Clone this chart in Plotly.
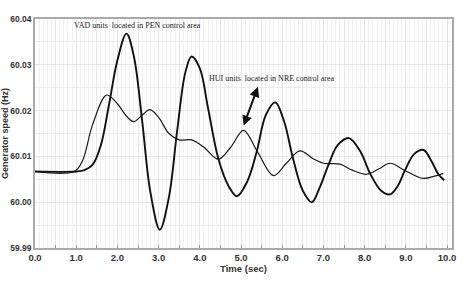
import plotly.graph_objects as go

# Time (s) and generator speed (Hz)
t_pen = [0.0, 1.0, 1.2, 1.4, 1.6, 1.8, 2.0, 2.22, 2.4, 2.6, 2.8, 3.03, 3.25, 3.45, 3.65, 3.8,
         4.0, 4.2, 4.45, 4.7, 4.9, 5.15, 5.38, 5.6, 5.83, 6.05, 6.25, 6.5, 6.72, 6.9, 7.12,
         7.35, 7.62, 7.9, 8.13, 8.4, 8.62, 8.8, 8.98, 9.2, 9.43, 9.62, 9.79, 9.93]
v_pen = [60.0067, 60.0067, 60.0070, 60.0082, 60.0125, 60.0215, 60.0310, 60.0368, 60.0318,
         60.0178, 60.0022, 59.9940, 60.0011, 60.0156, 60.0284, 60.0318, 60.0292, 60.0205,
         60.0095, 60.0035, 60.0013, 60.0045, 60.0110, 60.0190, 60.0218, 60.0175, 60.0100,
         60.0025, 60.0000, 60.0030, 60.0081, 60.0125, 60.0140, 60.0110, 60.0063, 60.0025,
         60.0017, 60.0035, 60.0070, 60.0105, 60.0114, 60.0090, 60.0061, 60.0048]

t_nre = [0.0, 0.95, 1.15, 1.4, 1.74, 2.0, 2.2, 2.39, 2.6, 2.79, 3.0, 3.25, 3.5, 3.8, 4.1,
         4.45, 4.75, 5.06, 5.4, 5.79, 6.1, 6.43, 6.75, 7.0, 7.4, 7.7, 8.05, 8.35, 8.62, 9.0,
         9.42, 9.7, 9.91]
v_nre = [60.0067, 60.0067, 60.0090, 60.0170, 60.0234, 60.0215, 60.0190, 60.0176, 60.0190,
         60.0202, 60.0185, 60.0150, 60.0136, 60.0136, 60.0120, 60.0094, 60.0120, 60.0157,
         60.0110, 60.0058, 60.0085, 60.0112, 60.0095, 60.0085, 60.0083, 60.0070, 60.0061,
         60.0073, 60.0085, 60.0068, 60.0052, 60.0057, 60.0063]

x_tickvals = [i * 0.5 for i in range(21)]
x_ticktext = [f"{v:.1f}" if v == int(v) else "" for v in x_tickvals]
y_tickvals = [59.99, 60.00, 60.01, 60.02, 60.03, 60.04]
y_ticktext = ["59.99", "60.00", "60.01", "60.02", "60.03", "60.04"]

SANS = "Liberation Sans, Arial, sans-serif"

fig = go.Figure()
fig.add_trace(go.Scatter(x=t_nre, y=v_nre, mode="lines",
                         line=dict(color="#1a1a1a", width=1.2, shape="spline", smoothing=1.0),
                         showlegend=False))
fig.add_trace(go.Scatter(x=t_pen, y=v_pen, mode="lines",
                         line=dict(color="#111111", width=1.9, shape="spline", smoothing=1.0),
                         showlegend=False))

fig.add_annotation(x=0.088, y=1.0, xref="paper", yref="paper", xanchor="left", yanchor="top",
                   text="VAD units  located in PEN control area", showarrow=False,
                   font=dict(family="Liberation Serif", size=8, color="#222"))
fig.add_annotation(x=0.412, y=0.74, xref="paper", yref="paper", xanchor="left", yanchor="middle",
                   text="HUI units  located in NRE control area", showarrow=False,
                   font=dict(family="Liberation Serif", size=8, color="#222"))
fig.add_annotation(x=5.41, y=60.0252, ax=5.05, ay=60.0164, xref="x", yref="y", axref="x", ayref="y",
                   text="", showarrow=True, arrowhead=2, startarrowhead=2, arrowside="end+start",
                   arrowsize=1, arrowwidth=2, arrowcolor="#111")

fig.update_layout(
    width=469, height=285,
    margin=dict(l=35, r=17, t=19, b=37),
    paper_bgcolor="white", plot_bgcolor="white",
    font=dict(family=SANS, size=10, color="#333"),
)
fig.update_xaxes(
    range=[0, 10.12], tickvals=x_tickvals, ticktext=x_ticktext, automargin=False,
    ticks="inside", ticklen=3, tickcolor="#999",
    tickfont=dict(family=SANS, size=9.5, color="#333", weight="bold"),
    showgrid=True, gridcolor="#e6e6e6", gridwidth=1,
    minor=dict(dtick=0.1, showgrid=True, gridcolor="#f0f0f0", gridwidth=1),
    showline=True, linecolor="#aaa", linewidth=1.5, mirror=True, zeroline=False,
    title=dict(text="<b>Time (sec)</b>", font=dict(family=SANS, size=9.5, color="#333"), standoff=3),
)
fig.update_yaxes(
    range=[59.99, 60.04], tickvals=y_tickvals, ticktext=y_ticktext, automargin=False,
    tickfont=dict(family=SANS, size=8.5, color="#333", weight="bold"),
    showgrid=True, gridcolor="#e6e6e6", gridwidth=1,
    minor=dict(dtick=0.005, showgrid=True, gridcolor="#ececec", gridwidth=1),
    showline=True, linecolor="#aaa", linewidth=1.5, mirror=True, zeroline=False,
    title=dict(text="<b>Generator speed (Hz)</b>", font=dict(family=SANS, size=9, color="#333"), standoff=0),
)

fig.write_html("out.html", config={"displayModeBar": False},
               post_script="document.body.style.margin='0';")
